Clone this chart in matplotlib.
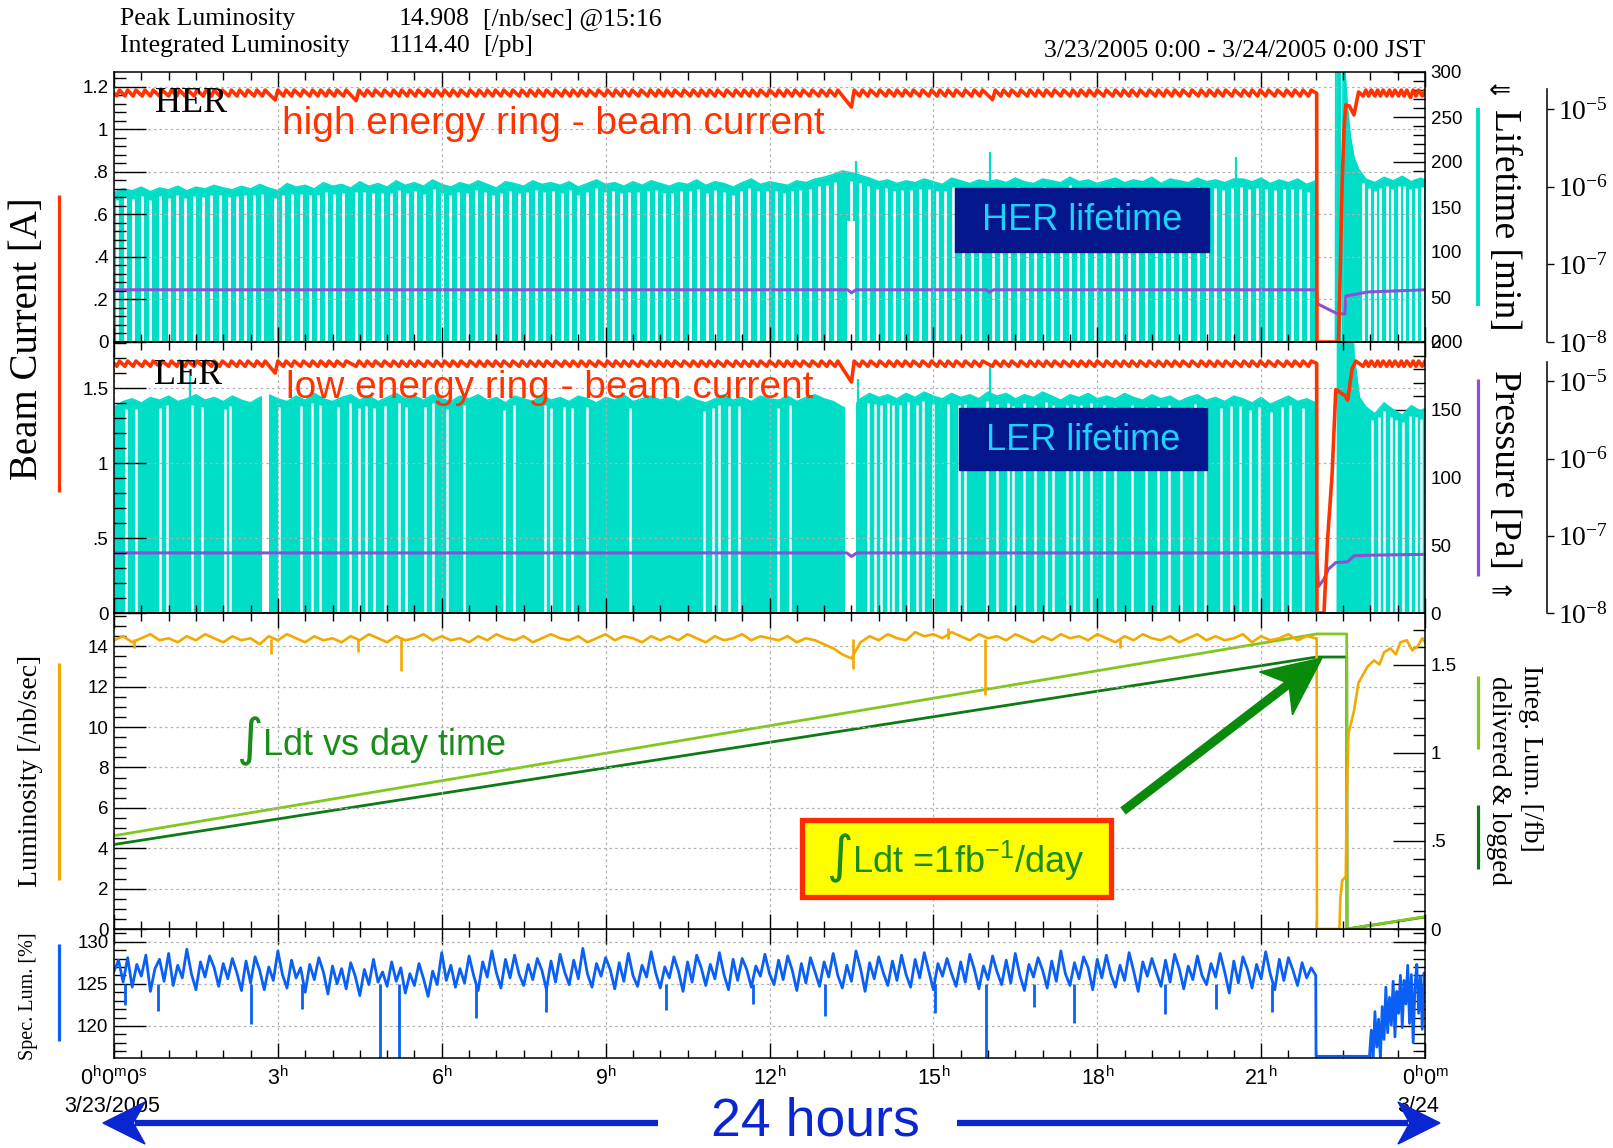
import numpy as np
import matplotlib
matplotlib.use("Agg")
import matplotlib.pyplot as plt
from matplotlib.lines import Line2D
from matplotlib.patches import Rectangle, Polygon
from matplotlib.ticker import MultipleLocator, NullLocator, FuncFormatter

plt.rcParams['font.family'] = ['Liberation Sans', 'DejaVu Sans']
plt.rcParams['mathtext.fontset'] = 'dejavusans'
plt.rcParams['mathtext.default'] = 'regular'

# ---------------- data (time in minutes after 3/23 0:00) ----------------
trip_min = 1321

# injection (top-up) times, common to both rings
inj_min = [3, 12, 21, 31, 40, 50, 60, 69, 78, 88, 98, 107, 116, 126, 135, 144, 154, 163,
           177, 186, 195, 205, 215, 224, 233, 242, 252, 266, 275, 284, 294, 304, 313, 322,
           331, 341, 351, 360, 369, 378, 388, 398, 407, 416, 425, 435, 445, 454, 463, 472,
           482, 492, 501, 510, 519, 529, 539, 548, 557, 566, 576, 586, 595, 604, 613, 623,
           633, 642, 651, 660, 670, 680, 689, 698, 707, 717, 727, 736, 745, 754, 764, 774,
           783, 792, 810, 819, 828, 838, 848, 857, 866, 875, 885, 895, 904, 913, 922, 932,
           942, 951, 965, 974, 983, 993, 1003, 1012, 1021, 1030, 1040, 1050, 1059, 1068,
           1077, 1087, 1097, 1106, 1115, 1124, 1134, 1144, 1153, 1162, 1171, 1181, 1191,
           1200, 1209, 1218, 1228, 1238, 1247, 1256, 1265, 1275, 1285, 1294, 1303, 1312,
           1372, 1378, 1385, 1391, 1398, 1404, 1411, 1417, 1424, 1430, 1437]

# beam currents [A]: level after / before each injection, deeper dips after long pauses
her_hi, her_lo = 1.185, 1.157
her_dip_t = [177, 266, 810, 965, 1424]
her_dip_v = [1.138, 1.135, 1.105, 1.14, 1.15]
her_post_t = [1345, 1347, 1349, 1351, 1353, 1357, 1362, 1367]
her_post_v = [0.0, 0.35, 0.75, 1.0, 1.115, 1.11, 1.068, 1.176]

ler_hi, ler_lo = 1.68, 1.645
ler_dip_t = [177, 810]
ler_dip_v = [1.60, 1.54]
ler_post_t = [1329, 1333, 1338, 1342, 1352, 1355, 1360, 1364]
ler_post_v = [0.0, 0.49, 0.93, 1.49, 1.45, 1.42, 1.63, 1.68]

# lifetimes [min], sampled every 10 min up to the abort
her_life = [166, 170, 168, 172, 167, 171, 169, 173, 168, 172, 170, 174, 171,
            169, 173, 170, 175, 171, 168, 176, 172, 174, 170, 177, 173,
            175, 171, 178, 173, 176, 172, 179, 174, 177, 173, 180, 175,
            172, 177, 174, 179, 175, 171, 178, 176, 173, 179, 175, 177,
            174, 178, 172, 176, 180, 175, 177, 173, 178, 174, 179, 176,
            173, 177, 175, 180, 174, 178, 176, 172, 177, 181, 175, 178,
            176, 174, 179, 177, 181, 183, 186, 190, 188, 185, 182, 178,
            180, 176, 179, 177, 181, 178, 175, 182, 179, 176, 180, 178,
            180, 177, 182, 178, 176, 181, 179, 177, 183, 178, 180, 176,
            179, 182, 177, 180, 178, 183, 176, 181, 179, 177, 182, 178,
            180, 177, 181, 181, 178, 182, 176, 180, 177, 181, 175, 179]
her_life_post_t = [1321, 1321.3, 1341.7, 1342, 1347, 1347.3, 1349.7, 1350, 1355, 1358,
                   1362, 1367, 1375, 1385, 1395, 1405, 1415, 1425, 1435, 1440]
her_life_post_v = [175, 0, 0, 330, 330, 0, 0, 330, 258, 228,
                   205, 192, 181, 177, 183, 179, 184, 178, 182, 180]
her_spike_t = [815, 962, 1232]
her_spike_v = [201, 211, 206]
her_wide_gap = (805, 814, 134)

ler_life = [152, 156, 158, 155, 159, 157, 160, 156, 158, 161, 157, 159, 156,
            160, 157, 155, 159, 161, 158, 156, 160, 157, 162, 158, 156,
            159, 161, 157, 160, 156, 159, 162, 158, 160, 157, 161, 158,
            156, 160, 158, 161, 157, 159, 155, 160, 158, 156, 161, 157,
            159, 156, 160, 158, 155, 159, 157, 161, 156, 158, 160, 157,
            159, 156, 160, 157, 155, 158, 161, 157, 159, 156, 160, 158,
            157, 160, 156, 159, 161, 158, 156, 152, 150, 158, 162, 159,
            161, 158, 162, 159, 163, 160, 158, 162, 159, 161, 158, 163,
            160, 162, 158, 161, 159, 163, 160, 157, 161, 159, 162, 158,
            160, 158, 162, 159, 157, 161, 158, 160, 156, 159, 161, 157,
            159, 156, 160, 158, 155, 159, 154, 157, 160, 156, 158, 155]
ler_life_post_t = [1321, 1321.3, 1343.7, 1344, 1358, 1362, 1368, 1375, 1385, 1395,
                   1405, 1415, 1425, 1435, 1440]
ler_life_post_v = [156, 0, 0, 260, 260, 190, 159, 152, 147, 155, 150, 146, 153, 149, 151]
ler_spike_t = [84, 817, 962]
ler_spike_v = [180, 173, 183]
ler_gap_min = [13, 24, 50, 58, 86, 97, 122, 127, 181, 205, 218, 226, 246, 259, 269, 277,
               286, 298, 313, 321, 342, 350, 366, 384, 428, 439, 473, 480, 494, 503, 519,
               567, 648, 658, 664, 676, 687, 729, 742, 828, 836, 843, 850, 856, 863, 872,
               882, 889, 900, 916, 928, 935, 959, 970, 982, 988, 1000, 1012, 1024, 1031,
               1047, 1054, 1062, 1073, 1087, 1099, 1118, 1133, 1147, 1159, 1172, 1187,
               1198, 1216, 1227, 1237, 1248, 1258, 1271, 1283, 1292, 1306,
               1382, 1390, 1395, 1403, 1408, 1416, 1423, 1430, 1436]
ler_wide_gaps = [(163, 170), (803, 815)]

# vacuum pressure [Pa]
her_pres_t = [0, 806, 810, 815, 958, 962, 966, 1321, 1322, 1344, 1352, 1353, 1377, 1440]
her_pres_v = [4.7e-8, 4.7e-8, 4.3e-8, 4.7e-8, 4.7e-8, 4.4e-8, 4.7e-8, 4.7e-8,
              3.1e-8, 2.3e-8, 2.3e-8, 3.9e-8, 4.4e-8, 4.7e-8]
ler_pres_t = [0, 805, 810, 816, 1321, 1323, 1329, 1334, 1342, 1355, 1362, 1377, 1440]
ler_pres_v = [6.0e-8, 6.0e-8, 5.4e-8, 6.0e-8, 6.0e-8, 2.2e-8, 2.75e-8, 3.7e-8,
              4.5e-8, 4.6e-8, 5.5e-8, 5.6e-8, 5.75e-8]

# luminosity [/nb/sec], every 10 min
lum = [14.3, 14.5, 14.2, 14.4, 14.6, 14.3, 14.4, 14.2, 14.5, 14.3, 14.6, 14.4, 14.2,
       14.5, 14.3, 14.4, 14.1, 14.5, 14.3, 14.6, 14.4, 14.2, 14.5, 14.3, 14.4,
       14.2, 14.5, 14.3, 14.6, 14.4, 14.2, 14.5, 14.3, 14.4, 14.6, 14.3, 14.5,
       14.3, 14.4, 14.2, 14.5, 14.3, 14.6, 14.4, 14.3, 14.5, 14.2, 14.4, 14.6,
       14.4, 14.3, 14.5, 14.2, 14.4, 14.6, 14.3, 14.5, 14.4, 14.2, 14.5, 14.3,
       14.5, 14.3, 14.6, 14.4, 14.2, 14.5, 14.3, 14.4, 14.6, 14.3, 14.5, 14.4,
       14.3, 14.5, 14.2, 14.4, 14.3, 14.1, 13.9, 13.6, 13.4, 14.2, 14.5, 14.3,
       14.6, 14.4, 14.3, 14.7, 14.5, 14.6, 14.4, 14.7, 14.5, 14.3, 14.6, 14.4,
       14.5, 14.3, 14.6, 14.4, 14.2, 14.5, 14.3, 14.6, 14.4, 14.5, 14.3, 14.6,
       14.4, 14.2, 14.5, 14.3, 14.6, 14.4, 14.3, 14.5, 14.2, 14.4, 14.6, 14.3,
       14.5, 14.3, 14.4, 14.6, 14.2, 14.5, 14.3, 14.4, 14.6, 14.3, 14.5, 14.4]
lum_post_t = [1321, 1321.3, 1346, 1347, 1349, 1353, 1354, 1356, 1362, 1367, 1372, 1377,
              1384, 1390, 1395, 1402, 1408, 1413, 1420, 1426, 1432, 1437, 1440]
lum_post_v = [14.4, 0, 0, 1.5, 2.4, 2.6, 6.5, 9.7, 10.8, 12.2, 12.6, 13.0,
              13.3, 13.1, 13.7, 13.9, 13.6, 14.2, 14.3, 13.8, 14.0, 14.4, 14.2]
lum_spike_t = [22, 172, 268, 315, 812, 916, 957, 1105]
lum_spike_v = [13.9, 13.6, 13.7, 12.8, 12.9, 14.908, 11.6, 13.9]

# integrated luminosity [/fb]: delivered and logged
deliv_t = [0, 1321, 1354, 1354.3, 1440]
deliv_v = [0.53, 1.676, 1.676, 0.0, 0.07]
logged_t = [0, 1321, 1354, 1354.3, 1440]
logged_v = [0.48, 1.545, 1.545, 0.0, 0.068]

# specific luminosity [%], every 5 min
spec = [126.5, 127.8, 125.2, 128.1, 124.6, 127.3, 125.9, 128.4, 124.1, 126.8, 127.9, 125.3,
        128.6, 124.8, 127.2, 125.7, 129.1, 126.2, 124.3, 127.6, 125.8, 128.3, 126.9, 124.7,
        127.4, 125.6, 128.0, 126.3, 124.2, 127.7, 125.1, 128.2, 126.6, 124.3, 127.0, 125.4,
        128.9, 126.1, 124.5, 127.8, 125.7, 126.9, 124.0, 127.3, 125.5, 128.1, 126.4, 123.8,
        127.1, 125.0, 126.8, 124.4, 127.5, 125.9, 123.6, 126.7, 124.9, 127.9, 125.2, 126.4,
        124.7, 127.6, 125.3, 126.9, 123.9, 126.2, 124.8, 127.4, 125.6, 123.5, 126.5, 124.9,
        128.7, 125.4, 127.2, 124.6, 126.8, 125.1, 128.3, 126.0, 124.2, 127.6, 125.8, 128.9,
        126.3, 124.5, 127.9, 125.7, 128.4, 126.1, 124.8, 127.3, 125.5, 128.0, 126.6, 124.3,
        127.7, 125.2, 128.5, 126.4, 124.9, 127.8, 125.6, 129.2, 126.2, 124.6, 127.4, 125.9,
        128.1, 126.7, 124.4, 127.5, 125.3, 128.6, 126.0, 124.7, 127.2, 125.8, 128.8, 126.3,
        124.5, 127.0, 125.7, 128.2, 126.5, 124.1, 127.6, 125.2, 128.4, 126.9, 124.8, 127.3,
        125.6, 128.7, 126.1, 124.3, 127.9, 125.4, 128.0, 126.7, 124.6, 127.1, 125.9, 128.5,
        126.2, 124.9, 127.8, 125.5, 128.3, 126.6, 124.2, 127.4, 125.1, 128.1, 126.4, 124.7,
        127.6, 125.8, 128.6, 126.0, 124.5, 127.2, 125.3, 128.9, 126.8, 124.1, 127.5, 125.6,
        128.2, 126.3, 124.8, 127.7, 125.4, 128.4, 126.1, 124.6, 127.9, 125.7, 128.7, 126.5,
        124.3, 127.4, 125.9, 128.0, 126.2, 124.7, 127.6, 125.2, 128.5, 126.7, 124.4, 127.1,
        125.5, 128.3, 126.4, 124.9, 127.8, 125.1, 128.6, 126.0, 124.2, 127.3, 125.8, 128.1,
        126.6, 124.5, 127.7, 125.3, 128.9, 126.2, 124.8, 127.5, 125.6, 128.2, 126.9, 124.3,
        127.9, 125.7, 128.4, 126.1, 124.6, 127.2, 125.4, 128.7, 126.5, 124.1, 127.6, 125.9,
        128.0, 126.3, 124.7, 127.8, 125.2, 128.5, 126.8, 124.4, 127.1, 125.5, 128.3, 126.0,
        124.9, 127.4, 125.8, 128.6, 126.4, 123.9, 127.7, 125.1, 128.2, 126.7, 124.5, 127.3,
        125.6, 128.8, 126.2, 124.3, 127.9, 125.4, 128.1, 126.6, 124.8, 127.5, 125.7, 126.9]
spec_spike_t = [12, 48, 151, 206, 292, 313, 398, 474, 606, 702, 781, 902, 958, 1010,
                1055, 1154, 1210, 1272]
spec_spike_v = [122.5, 121.8, 120.2, 122.0, 115, 115, 121.0, 121.6, 121.9, 122.6, 121.2,
                121.5, 115, 122.3, 120.4, 121.4, 122.0, 121.6]
spec_post_t = [1320, 1320.3, 1379, 1381, 1383, 1385, 1387, 1389, 1391, 1393, 1395, 1397,
               1399, 1401, 1403, 1405, 1407, 1409, 1411, 1413, 1415, 1417, 1419, 1421,
               1423, 1425, 1427, 1429, 1431, 1433, 1435, 1437, 1439, 1440]
spec_post_v = [126.0, 116.4, 116.4, 119.5, 116, 121.7, 117.5, 120.8, 116, 122.3, 118.4,
               124.6, 119.2, 123.4, 120.1, 125.3, 118.7, 124.1, 121.5, 126.0, 119.8, 125.4,
               122.6, 127.2, 120.3, 126.1, 118.0, 124.8, 127.3, 121.5, 125.9, 119.6, 126.3,
               124.0]

time_labels = ['0$^{h}$0$^{m}$0$^{s}$', '3$^{h}$', '6$^{h}$', '9$^{h}$', '12$^{h}$',
               '15$^{h}$', '18$^{h}$', '21$^{h}$', '0$^{h}$0$^{m}$']

# ---------------- colours ----------------
RED = '#ff3300'
CYAN = '#00dec8'
PURPLE = '#8b50d6'
ORANGE = '#f2a900'
LGREEN = '#80c820'
DGREEN = '#0e7a14'
BLUE = '#0a60f5'
GRID = '#b0b0b0'
NAVY = '#04168c'
TXTGREEN = '#1a8c1a'
ARROWBLUE = '#0a26d0'

W, H = 1613, 1148
fig = plt.figure(figsize=(W / 100, H / 100), dpi=100)
fig.patch.set_facecolor('white')


def fx(x):
    return x / W


def fy(y):
    return 1 - y / H


def rect(top, bottom):
    return [fx(114), fy(bottom), 1311 / W, (bottom - top) / H]


trim = FuncFormatter(lambda v, p: ('%g' % v).lstrip('0') or '0')


def layer(r, z, base=False):
    a = fig.add_axes(r, zorder=z)
    a.patch.set_visible(base)
    a.set_xlim(0, 24)
    return a


def frame(ax, lo, hi, major, minor):
    ax.set_ylim(lo, hi)
    ax.xaxis.set_major_locator(MultipleLocator(3))
    ax.xaxis.set_minor_locator(MultipleLocator(0.5))
    ax.yaxis.set_major_locator(MultipleLocator(major))
    ax.yaxis.set_minor_locator(MultipleLocator(minor))
    ax.yaxis.set_major_formatter(trim)
    ax.tick_params(which='both', direction='in', top=True, bottom=True,
                   labelbottom=False, width=1.0)
    ax.tick_params(axis='x', which='major', length=11)
    ax.tick_params(axis='x', which='minor', length=6)
    ax.tick_params(axis='y', which='major', length=23, labelsize=13.5, pad=4)
    ax.tick_params(axis='y', which='minor', length=8.5)
    ax.grid(True, which='major', color=GRID, ls=(0, (2, 2.5)), lw=0.9)
    ax.set_axisbelow(True)
    for s in ax.spines.values():
        s.set_linewidth(1.1)


def right_scale(ax, hi, major, minor):
    ax.set_ylim(0, hi)
    ax.xaxis.set_visible(False)
    ax.yaxis.tick_right()
    ax.yaxis.set_major_locator(MultipleLocator(major))
    ax.yaxis.set_minor_locator(MultipleLocator(minor))
    ax.yaxis.set_major_formatter(trim)
    ax.tick_params(axis='y', which='both', direction='in', width=1.0)
    ax.tick_params(axis='y', which='major', length=23, labelsize=13.5, pad=4)
    ax.tick_params(axis='y', which='minor', length=8.5)
    for s in ax.spines.values():
        s.set_visible(False)


def pressure_scale(ax, top):
    ax.set_yscale('log')
    ax.set_ylim(1e-8, top)
    ax.xaxis.set_visible(False)
    ax.yaxis.tick_right()
    for k in ('left', 'top', 'bottom'):
        ax.spines[k].set_visible(False)
    ax.spines['right'].set_position(('axes', 1.093))
    ax.spines['right'].set_bounds(1e-8, 10 ** -4.75)
    ax.spines['right'].set_linewidth(1.1)
    ax.set_yticks([1e-8, 1e-7, 1e-6, 1e-5])
    ax.set_yticklabels(['10$^{-8}$', '10$^{-7}$', '10$^{-6}$', '10$^{-5}$'],
                       family='Liberation Serif', fontsize=20)
    ax.yaxis.set_minor_locator(NullLocator())
    ax.tick_params(axis='y', direction='out', length=5, width=1.0, pad=3)


def current_trace(hi, lo, dip_t, dip_v, start, stop):
    dips = dict(zip(dip_t, dip_v))
    t, v = [], []
    for ti in inj_min:
        if start < ti < stop:
            t += [ti, ti + 3]
            v += [dips.get(ti, lo), hi]
    return t, v


def hrs(seq):
    return np.asarray(seq, dtype=float) / 60.0


grid10 = list(range(0, 1321, 10))
grid5 = list(range(0, 1316, 5))

# ---------------- panel 1: HER ----------------
r1 = rect(72, 342)
ax1r = layer(r1, 1, base=True)
ax1p = layer(r1, 2)
ax1 = layer(r1, 3)
frame(ax1, 0, 1.27, 0.2, 0.04)
right_scale(ax1r, 300, 50, 10)
pressure_scale(ax1p, 10 ** -4.525)

t = grid10 + her_life_post_t
v = her_life + her_life_post_v
ax1r.fill_between(hrs(t), 0, v, color=CYAN, lw=0, zorder=3)
ax1r.plot(hrs(t), v, color=CYAN, lw=1.2, zorder=3)
ax1r.vlines(hrs(her_spike_t), 165, her_spike_v, color=CYAN, lw=1.6, zorder=3)
# white gaps where the lifetime readout drops during each injection
gap_top = np.interp(inj_min, t, v) - 9
ax1r.vlines(hrs(inj_min), 0, gap_top, color='white', lw=2.0, zorder=3.5)
g0, g1, gh = her_wide_gap
ax1r.fill_between(hrs([g0, g1]), 0, gh, color='white', lw=0, zorder=3.5)

ax1p.plot(hrs(her_pres_t), her_pres_v, color=PURPLE, lw=2.2)

ct, cv = current_trace(her_hi, her_lo, her_dip_t, her_dip_v, 0, trip_min)
ct = [0] + ct + [trip_min, trip_min + 0.3] + her_post_t
cv = [1.17] + cv + [1.17, 0.0] + her_post_v
pt, pv = current_trace(her_hi, her_lo, her_dip_t, her_dip_v, 1367, 1441)
ax1.plot(hrs(ct + pt + [1440]), cv + pv + [1.165], color=RED, lw=2.6)

# ---------------- panel 2: LER ----------------
r2 = rect(342, 613)
ax2r = layer(r2, 1, base=True)
ax2p = layer(r2, 2)
ax2 = layer(r2, 3)
frame(ax2, 0, 1.807, 0.5, 0.1)
right_scale(ax2r, 200, 50, 10)
pressure_scale(ax2p, 10 ** -4.49)

t = grid10 + ler_life_post_t
v = ler_life + ler_life_post_v
ax2r.fill_between(hrs(t), 0, v, color=CYAN, lw=0, zorder=3)
ax2r.plot(hrs(t), v, color=CYAN, lw=1.2, zorder=3)
ax2r.vlines(hrs(ler_spike_t), 150, ler_spike_v, color=CYAN, lw=1.6, zorder=3)
gap_top = np.interp(ler_gap_min, t, v) - 6
ax2r.vlines(hrs(ler_gap_min), 0, gap_top, color='white', lw=1.8, zorder=3.5)
for g0, g1 in ler_wide_gaps:
    ax2r.fill_between(hrs([g0, g1]), 0, 200, color='white', lw=0, zorder=3.5)

ax2p.plot(hrs(ler_pres_t), ler_pres_v, color=PURPLE, lw=2.2)

ct, cv = current_trace(ler_hi, ler_lo, ler_dip_t, ler_dip_v, 0, trip_min)
ct = [0] + ct + [trip_min, trip_min + 0.3] + ler_post_t
cv = [1.665] + cv + [1.665, 0.0] + ler_post_v
pt, pv = current_trace(ler_hi, ler_lo, ler_dip_t, ler_dip_v, 1367, 1441)
ax2.plot(hrs(ct + pt + [1440]), cv + pv + [1.66], color=RED, lw=2.6)

# ---------------- panel 3: luminosity ----------------
r3 = rect(613, 929)
ax3r = layer(r3, 1, base=True)
ax3 = layer(r3, 3)
frame(ax3, 0, 15.65, 2, 0.5)
right_scale(ax3r, 1.795, 0.5, 0.1)

ax3r.plot(hrs(logged_t), logged_v, color=DGREEN, lw=2.0)
ax3r.plot(hrs(deliv_t), deliv_v, color=LGREEN, lw=2.0)
ax3.plot(hrs(grid10 + lum_post_t), lum + lum_post_v, color=ORANGE, lw=1.9)
ax3.vlines(hrs(lum_spike_t), 14.35, lum_spike_v, color=ORANGE, lw=1.9)

# ---------------- panel 4: specific luminosity ----------------
ax4 = layer(rect(929, 1058), 0, base=True)
frame(ax4, 116.2, 131.5, 5, 1)
ax4.tick_params(axis='y', which='both', right=True)
ax4.plot(hrs(grid5 + spec_post_t), spec + spec_post_v, color=BLUE, lw=2.0)
ax4.vlines(hrs(spec_spike_t), 125, spec_spike_v, color=BLUE, lw=2.0)
ax4.set_xticks(range(0, 25, 3))
ax4.set_xticklabels(time_labels, fontsize=15.5)
ax4.tick_params(axis='x', labelbottom=True, pad=6)

# ---------------- figure annotations ----------------
serif = 'Liberation Serif'
hdr = dict(family=serif, fontsize=18.5, va='center')
fig.text(fx(120), fy(19), 'Peak Luminosity', **hdr)
fig.text(fx(470), fy(19), '14.908', ha='right', **hdr)
fig.text(fx(483), fy(19), '[/nb/sec] @15:16', **hdr)
fig.text(fx(120), fy(46), 'Integrated Luminosity', **hdr)
fig.text(fx(470), fy(46), '1114.40', ha='right', **hdr)
fig.text(fx(483), fy(46), '[/pb]', **hdr)
fig.text(fx(1425), fy(51), '3/23/2005 0:00 - 3/24/2005 0:00 JST', ha='right', **hdr)

fig.text(fx(112), fy(1106), '3/23/2005', ha='center', va='center', fontsize=15.5)
fig.text(fx(1418), fy(1106), '3/24', ha='center', va='center', fontsize=15.5)

# axis titles
fig.text(fx(28), fy(339), 'Beam Current [A]', family=serif, fontsize=28,
         rotation=90, ha='center', va='center')
fig.text(fx(31), fy(771), 'Luminosity [/nb/sec]', family=serif, fontsize=20,
         rotation=90, ha='center', va='center')
fig.text(fx(29), fy(996), 'Spec. Lum. [%]', family=serif, fontsize=14.5,
         rotation=90, ha='center', va='center')
fig.text(fx(1504), fy(220), 'Lifetime [min]', family=serif, fontsize=27,
         rotation=-90, ha='center', va='center')
fig.text(fx(1500), fy(91), '\u21d0', family='DejaVu Sans', fontsize=19,
         ha='center', va='center')
fig.text(fx(1504), fy(469), 'Pressure [Pa]', family=serif, fontsize=27,
         rotation=-90, ha='center', va='center')
fig.text(fx(1502), fy(592), '\u21d2', family='DejaVu Sans', fontsize=19,
         ha='center', va='center')
fig.text(fx(1530), fy(758), 'Integ. Lum. [/fb]', family=serif, fontsize=20,
         rotation=-90, ha='center', va='center')
fig.text(fx(1499), fy(780), 'delivered & logged', family=serif, fontsize=19.5,
         rotation=-90, ha='center', va='center')


def fig_line(x0, y0, x1, y1, color, lw, z=10):
    fig.add_artist(Line2D([fx(x0), fx(x1)], [fy(y0), fy(y1)], transform=fig.transFigure,
                          color=color, lw=lw, zorder=z, solid_capstyle='butt'))


# colour keys beside the axis titles
fig_line(59, 195, 59, 492, RED, 2.3)
fig_line(59, 663, 59, 880, ORANGE, 2.3)
fig_line(59, 944, 59, 1041, BLUE, 2.3)
fig_line(1478, 108, 1478, 306, CYAN, 2.8)
fig_line(1478, 379, 1478, 576, PURPLE, 2.3)
fig_line(1478, 676, 1478, 749, LGREEN, 2.3)
fig_line(1478, 805, 1478, 869, DGREEN, 2.3)

# in-plot labels
fig.text(fx(191), fy(103), 'HER', family=serif, fontsize=26, ha='center', va='center',
         zorder=10)
fig.text(fx(188), fy(375), 'LER', family=serif, fontsize=26, ha='center', va='center',
         zorder=10)
fig.text(fx(553), fy(124), 'high energy ring - beam current', color=RED, fontsize=28,
         ha='center', va='center', zorder=10)
fig.text(fx(550), fy(388), 'low energy ring - beam current', color=RED, fontsize=28,
         ha='center', va='center', zorder=10)

for (x0, y0, x1, y1, label) in [(955, 188, 1209, 252, 'HER lifetime'),
                                (959, 408, 1207, 470, 'LER lifetime')]:
    fig.add_artist(Rectangle((fx(x0), fy(y1)), (x1 - x0) / W, (y1 - y0) / H,
                             transform=fig.transFigure, color=NAVY, zorder=10))
    fig.text(fx((x0 + x1) / 2), fy((y0 + y1) / 2 + 1), label, color='#1ed2ff',
             fontsize=26, ha='center', va='center', zorder=11)

fig.text(fx(371), fy(741), r'$\int$Ldt vs day time', color=TXTGREEN, fontsize=26,
         ha='center', va='center', zorder=10)

fig.add_artist(Rectangle((fx(802), fy(897)), (1111 - 802) / W, (897 - 820) / H,
                         transform=fig.transFigure, facecolor='#ffff00',
                         edgecolor='#ff2a00', lw=3.8, zorder=10))
fig.text(fx(955), fy(858), r'$\int$Ldt =1fb$^{-1}$/day', color=TXTGREEN, fontsize=26,
         ha='center', va='center', zorder=11)


def arrow_head(tip, tail, length, width, color, notch=0.72):
    tip = np.array(tip, float)
    d = tip - np.array(tail, float)
    d /= np.hypot(*d)
    n = np.array([-d[1], d[0]])
    back = tip - d * length
    pts = [tip, back + n * width / 2, tip - d * length * notch, back - n * width / 2]
    fig.add_artist(Polygon([(fx(p[0]), fy(p[1])) for p in pts], closed=True,
                           transform=fig.transFigure, color=color, zorder=12))


# arrow pointing at the logged integral
fig_line(1123, 811, 1290, 683, '#0a8a0a', 6.5, z=12)
arrow_head((1322, 658), (1123, 811), 58, 54, '#0a8a0a')

# 24 hours span
fig.text(fx(815), fy(1135), '24 hours', color=ARROWBLUE, fontsize=38.5,
         ha='center', va='baseline')
fig_line(658, 1123, 135, 1123, ARROWBLUE, 4.5)
arrow_head((103, 1123), (658, 1123), 42, 42, ARROWBLUE)
fig_line(957, 1123, 1408, 1123, ARROWBLUE, 4.5)
arrow_head((1440, 1123), (957, 1123), 42, 42, ARROWBLUE)

fig.savefig('out.png', dpi=100)
